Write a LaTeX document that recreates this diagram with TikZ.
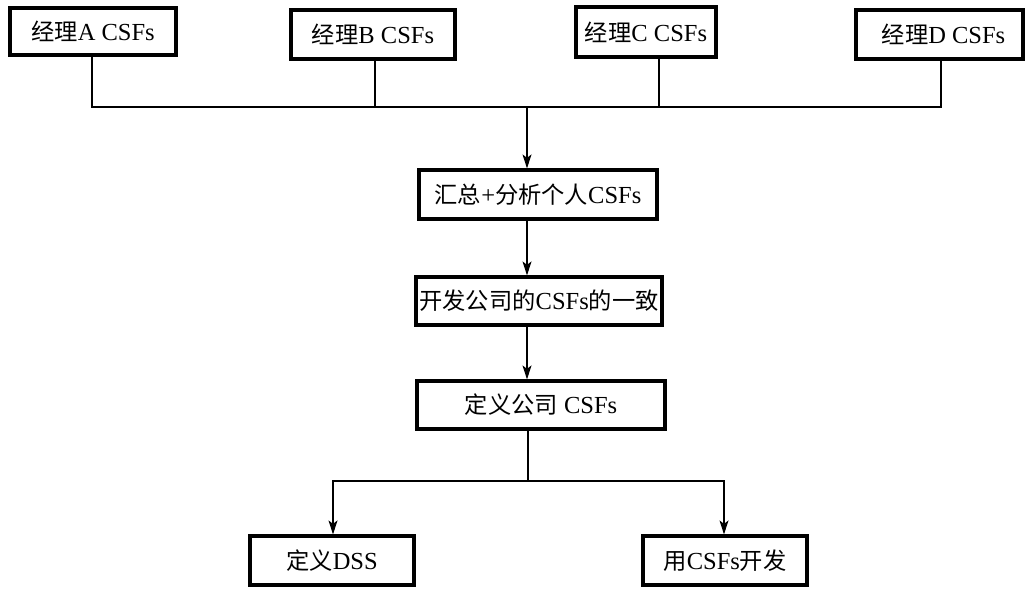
\documentclass[tikz,border=0pt]{standalone}
\usepackage{fontspec}
\setmainfont{Liberation Serif}
\newfontfamily\cjk{Noto Sans CJK SC}[Scale=0.95]
\usetikzlibrary{arrows.meta}
\begin{document}
\begin{tikzpicture}[x=1pt,y=-1pt,
  box/.style={draw,line width=3.2pt,inner sep=0pt,font=\fontsize{24.5}{29}\selectfont},
  conn/.style={line width=1.1pt},
  arr/.style={conn,-{Stealth[length=14pt,width=9pt,inset=3.5pt]}}]
\useasboundingbox (0,0) rectangle (1036,595);
\fill[white] (0,0) rectangle (1036,595);
\node[box,minimum width=166pt,minimum height=47pt] (A) at (93,31.5) {{\cjk 经理}A CSFs};
\node[box,minimum width=164pt,minimum height=49pt] (B) at (373,34.5) {{\cjk 经理}B CSFs};
\node[box,minimum width=140pt,minimum height=50pt] (C) at (646,32) {{\cjk 经理}C CSFs};
\node[box,minimum width=167pt,minimum height=49pt] (D) at (939.5,34.5) {\hspace*{8pt}{\cjk 经理}D CSFs};
\node[box,minimum width=238pt,minimum height=49pt] (S1) at (538,194.5) {{\cjk 汇总}+{\cjk 分析个人}CSFs};
\node[box,minimum width=246pt,minimum height=48pt] (S2) at (539,301) {{\cjk 开发公司的}CSFs{\cjk 的一致}};
\node[box,minimum width=248pt,minimum height=48pt] (S3) at (541,405) {{\cjk 定义公司} CSFs};
\node[box,minimum width=164pt,minimum height=49pt] (L) at (332,560.5) {{\cjk 定义}DSS};
\node[box,minimum width=164pt,minimum height=49pt] (R) at (725,560.5) {{\cjk 用}CSFs{\cjk 开发}};
\coordinate (bA) at (92,107);
\coordinate (bB) at (375,107);
\coordinate (bC) at (659,107);
\coordinate (bD) at (941,107);
\coordinate (bT) at (527,107);
\coordinate (lT) at (528,481);
\coordinate (lL) at (333,481);
\coordinate (lR) at (724,481);
\draw[conn] (A.south -| bA) -- (bA) -- (bD) -- (D.south -| bD);
\draw[conn] (B.south -| bB) -- (bB);
\draw[conn] (C.south -| bC) -- (bC);
\draw[arr] (bT) -- (S1.north -| bT);
\draw[arr] (S1.south -| bT) -- (S2.north -| bT);
\draw[arr] (S2.south -| bT) -- (S3.north -| bT);
\draw[conn] (S3.south -| lT) -- (lT);
\draw[arr] (lT) -- (lL) -- (L.north -| lL);
\draw[arr] (lT) -- (lR) -- (R.north -| lR);
\end{tikzpicture}
\end{document}
